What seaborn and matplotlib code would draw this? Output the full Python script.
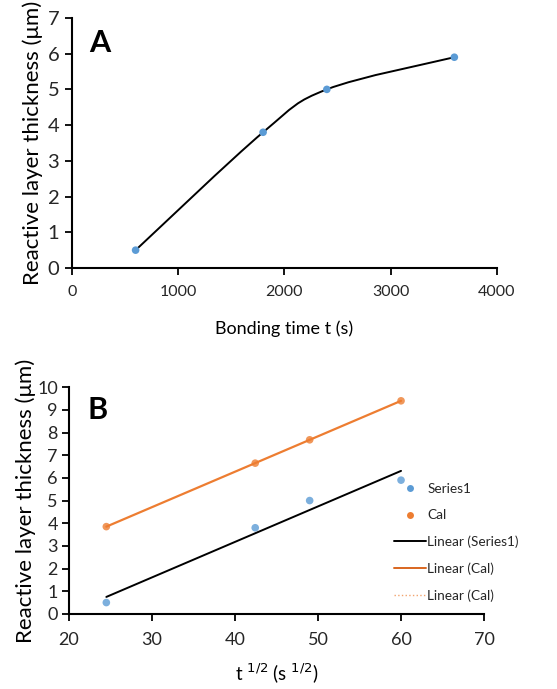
import numpy as np
import pandas as pd
import seaborn as sns
import matplotlib
matplotlib.use("Agg")
import matplotlib.pyplot as plt
from matplotlib.path import Path
from matplotlib.patches import PathPatch
from matplotlib.lines import Line2D

# ---- data ----
bonding_time = [600, 1800, 2400, 3600]          # s
thickness = [0.5, 3.8, 5.0, 5.9]                # um
sqrt_time = [24.49, 42.43, 48.99, 60.0]         # s^1/2
cal_thickness = [3.85, 6.65, 7.68, 9.4]         # um

a_xticks = [0, 1000, 2000, 3000, 4000]
a_yticks = [0, 1, 2, 3, 4, 5, 6, 7]
b_xticks = [20, 30, 40, 50, 60, 70]
b_yticks = [0, 1, 2, 3, 4, 5, 6, 7, 8, 9, 10]

BLUE = "#5B9BD5"
ORANGE = "#ED7D31"
ORANGE_D = "#D9661F"

sns.set_theme(style="ticks")
plt.rcParams['font.family'] = ['Lato', 'DejaVu Sans']

fig = plt.figure(figsize=(5.57, 6.89), dpi=100)
axA = fig.add_axes([0.129, 0.611, 0.763, 0.363])
axB = fig.add_axes([0.124, 0.109, 0.745, 0.329])

def style(ax):
    for s in ["top", "right"]:
        ax.spines[s].set_visible(False)
    for s in ["left", "bottom"]:
        ax.spines[s].set_color("black")
        ax.spines[s].set_linewidth(1.5)
    ax.tick_params(direction="out", length=5, width=1.3, color="black")

# ---- Panel A ----
dfA = pd.DataFrame({"t": bonding_time, "h": thickness})
# smoothed line (Excel-like Catmull-Rom bezier)
pts = np.column_stack([bonding_time, thickness]).astype(float)
n = len(pts)
verts = [tuple(pts[0])]
codes = [Path.MOVETO]
for i in range(n - 1):
    p0 = pts[i - 1] if i > 0 else pts[i]
    p1 = pts[i]
    p2 = pts[i + 1]
    p3 = pts[i + 2] if i + 2 < n else pts[i + 1]
    c1 = p1 + (p2 - p0) / 6.0
    c2 = p2 - (p3 - p1) / 6.0
    verts += [tuple(c1), tuple(c2), tuple(p2)]
    codes += [Path.CURVE4] * 3
axA.add_patch(PathPatch(Path(verts, codes), facecolor="none", edgecolor="black", lw=1.4, zorder=2))
sns.scatterplot(data=dfA, x="t", y="h", ax=axA, color=BLUE, s=30, edgecolor="none", zorder=3)
axA.set_xlim(0, 4000)
axA.set_ylim(0, 7)
axA.set_xticks(a_xticks)
axA.set_yticks(a_yticks)
style(axA)
axA.tick_params(axis="y", labelsize=14.5, pad=4)
axA.tick_params(axis="x", labelsize=11.5, pad=7)
axA.set_xlabel("Bonding time t (s)", fontsize=13, labelpad=16, color="black")
axA.set_ylabel("Reactive layer thickness (μm)", fontsize=16, labelpad=3, color="black")
axA.text(0.04, 0.90, "A", transform=axA.transAxes, fontsize=22, fontweight="bold",
         ha="left", va="center", color="black")

# ---- Panel B ----
dfB = pd.DataFrame({"x": sqrt_time, "h": thickness, "cal": cal_thickness})
sns.regplot(data=dfB, x="x", y="h", ax=axB, ci=None, truncate=True,
            scatter_kws=dict(color=BLUE, s=30, edgecolor="none", zorder=3),
            line_kws=dict(color="black", lw=1.4, zorder=2))
sns.regplot(data=dfB, x="x", y="cal", ax=axB, ci=None, truncate=True,
            scatter_kws=dict(color=ORANGE, s=30, edgecolor="none", zorder=3),
            line_kws=dict(color=ORANGE, lw=1.6, zorder=2))
axB.set_xlim(20, 70)
axB.set_ylim(0, 10)
axB.set_xticks(b_xticks)
axB.set_yticks(b_yticks)
style(axB)
axB.tick_params(axis="y", labelsize=13, pad=3)
axB.tick_params(axis="x", labelsize=13, pad=8)
axB.set_xlabel(r"t $^{1/2}$ (s $^{1/2}$)", fontsize=13.5, labelpad=10, color="black")
axB.set_ylabel("Reactive layer thickness (μm)", fontsize=16, labelpad=1, color="black")
axB.text(0.045, 0.90, "B", transform=axB.transAxes, fontsize=22, fontweight="bold",
         ha="left", va="center", color="black")

handles = [
    Line2D([], [], ls="none", marker="o", color=BLUE, markersize=5, markeredgecolor="none"),
    Line2D([], [], ls="none", marker="o", color=ORANGE, markersize=5, markeredgecolor="none"),
    Line2D([], [], color="black", lw=1.4),
    Line2D([], [], color=ORANGE_D, lw=1.4),
    Line2D([], [], color=ORANGE, lw=1.0, ls=":", alpha=0.7),
]
labels = ["Series1", "Cal", "Linear (Series1)", "Linear (Cal)", "Linear (Cal)"]
fig.legend(handles, labels, loc="upper left", bbox_to_anchor=(0.708, 1 - 483 / 689),
           frameon=False, fontsize=9.8, handlelength=2.3, handletextpad=0.12,
           labelspacing=1.05, borderaxespad=0, borderpad=0)

fig.savefig("out.png", dpi=100, facecolor="white")
